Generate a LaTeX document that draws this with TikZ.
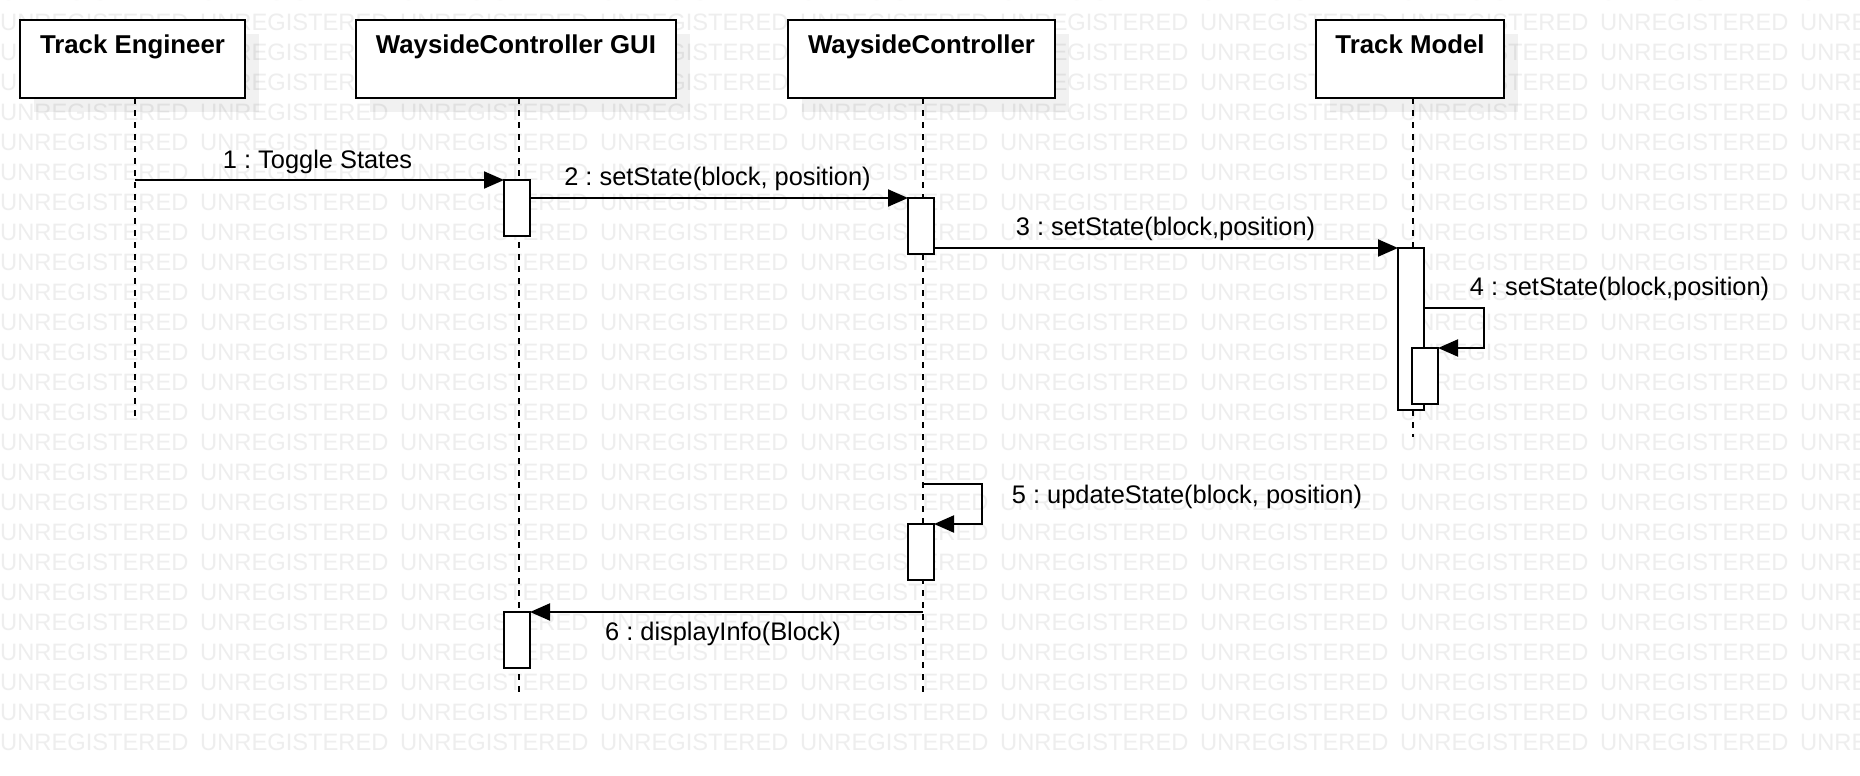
\documentclass[tikz,border=0pt]{standalone}
\usepackage{fontspec}
\setmainfont{Liberation Sans}
\usetikzlibrary{arrows.meta}
\definecolor{wmgray}{gray}{0.935}
\frenchspacing
\begin{document}
\begin{tikzpicture}[x=1pt,y=-1pt,
  head/.style={draw=black, fill=white, line width=2pt, inner sep=0pt, outer sep=0pt},
  act/.style={draw=black, fill=white, line width=2pt, minimum width=26pt, inner sep=0pt, outer sep=0pt},
  lifeline/.style={line width=2pt, dash pattern=on 5.5pt off 6.5pt},
  msg/.style={line width=2pt, -{Triangle[length=20pt,width=17pt]}},
  msglabel/.style={font=\fontsize{25.4pt}{30pt}\selectfont, anchor=base, inner sep=0pt},
  titlelabel/.style={font=\bfseries\fontsize{25.8pt}{30pt}\selectfont, anchor=base, inner sep=0pt},
  wm/.style={font=\fontsize{23.7pt}{28pt}\selectfont, text=wmgray, anchor=base west, inner sep=0pt},
  shadowbox/.style={fill=black, fill opacity=0.055}
]
\useasboundingbox (0,0) rectangle (1860,776);
\fill[white] (0,0) rectangle (1860,776);

% watermark
\begin{scope}
\clip (0,0) rectangle (1860,776);
\foreach \r in {-1,...,24}{
  \foreach \c in {0,...,9}{
    \node[wm] (wm-\r-\c) at (200*\c, 30.5+30*\r) {UNREGISTERED};
  }
}
\end{scope}

% lifeline heads (shadow placement)
\node[head, draw=none, fill=none, minimum width=225pt, minimum height=78pt] (te)  at (132.5,59) {};
\node[head, draw=none, fill=none, minimum width=320pt, minimum height=78pt] (gui) at (516,59) {};
\node[head, draw=none, fill=none, minimum width=267pt, minimum height=78pt] (wc)  at (921.5,59) {};
\node[head, draw=none, fill=none, minimum width=188pt, minimum height=78pt] (tm)  at (1410,59) {};

% shadows
\foreach \n in {te,gui,wc,tm}{
  \fill[shadowbox] ([shift={(14,14)}]\n.north west) rectangle ([shift={(14,14)}]\n.south east);
}

% lifelines
\coordinate (teEnd)  at (135,417);
\coordinate (guiEnd) at (519,693);
\coordinate (wcEnd)  at (922.5,693);
\coordinate (tmEnd)  at (1413,437);
\draw[lifeline] (te.south -| teEnd) -- (teEnd);
\draw[lifeline] (gui.south -| guiEnd) -- (guiEnd);
\draw[lifeline] (wc.south -| wcEnd) -- (wcEnd);
\draw[lifeline] (tm.south -| tmEnd) -- (tmEnd);

% visible heads
\node[head, minimum width=225pt, minimum height=78pt] (teBox)  at (te) {};
\node[head, minimum width=320pt, minimum height=78pt] (guiBox) at (gui) {};
\node[head, minimum width=267pt, minimum height=78pt] (wcBox)  at (wc) {};
\node[head, minimum width=188pt, minimum height=78pt] (tmBox)  at (tm) {};

\node[titlelabel] (teT)  at (132.5,54) {Track Engineer};
\node[titlelabel] (guiT) at (516,54)   {WaysideController GUI};
\node[titlelabel] (wcT)  at (921.5,54) {WaysideController};
\node[titlelabel] (tmT)  at (1410,54)  {Track Model};

% activations
\node[act, minimum height=56pt]  (gui1) at (517,208) {};
\node[act, minimum height=56pt]  (wc1)  at (921,226) {};
\node[act, minimum height=162pt] (tm1)  at (1411,329) {};
\node[act, minimum height=56pt]  (tm2)  at (1425,376) {};
\node[act, minimum height=56pt]  (wc2)  at (921,552) {};
\node[act, minimum height=56pt]  (gui2) at (517,640) {};

% messages
\coordinate (m1)  at (135,180);
\draw[msg] (m1) -- (gui1.north west);
\draw[msg] (gui1.east |- wc1.north) -- (wc1.north west);
\draw[msg] (wc1.east |- tm1.north) -- (tm1.north west);
\coordinate (m4)  at (1484,308);
\draw[msg] (tm1.east |- m4) -- (m4) |- (tm2.north east);
\coordinate (m5a) at (922.5,484);
\coordinate (m5b) at (982,484);
\draw[msg] (m5a) -- (m5b) |- (wc2.north east);
\coordinate (m6)  at (922.5,612);
\draw[msg] (m6) -- (gui2.north east);

% labels
\node[msglabel] (l1) at (317.5,168) {1 : Toggle States};
\node[msglabel] (l2) at (717.5,185) {2 : setState(block, position)};
\node[msglabel] (l3) at (1165.5,235) {3 : setState(block,position)};
\node[msglabel] (l4) at (1619.5,295) {4 : setState(block,position)};
\node[msglabel] (l5) at (1187,503) {5 : updateState(block, position)};
\node[msglabel] (l6) at (723,640) {6 : displayInfo(Block)};
\end{tikzpicture}
\end{document}
